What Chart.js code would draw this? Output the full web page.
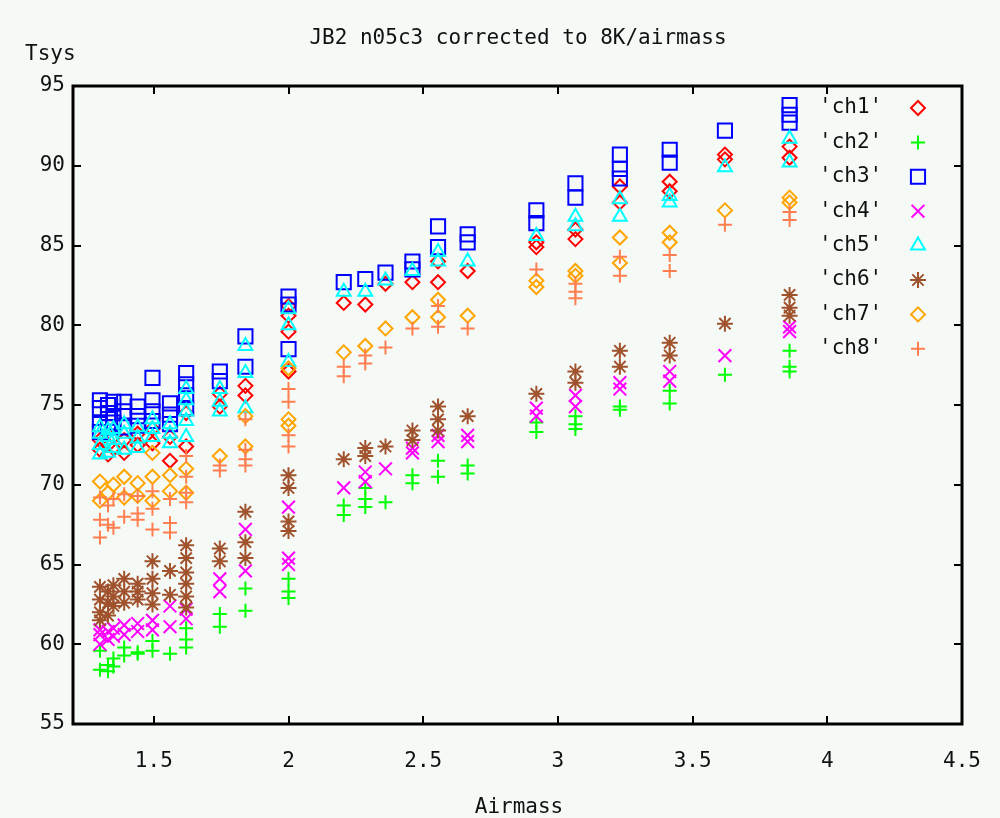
<!DOCTYPE html>
<html><head><meta charset="utf-8">
<script src="https://cdn.jsdelivr.net/npm/chart.js@4.4.0/dist/chart.umd.min.js"></script>
<style>html,body{margin:0;padding:0;background:#f6faf7;overflow:hidden}#wrap{width:1000px;height:818px}</style>
</head><body><div id="wrap"><canvas id="c" width="1000" height="818"></canvas></div>
<script>
// Airmass columns (x positions of the observation groups)
const airmass = [1.30, 1.33, 1.35, 1.39, 1.44, 1.495, 1.56, 1.62, 1.745, 1.84, 2.00, 2.205, 2.285, 2.36, 2.46, 2.555, 2.665, 2.92, 3.065, 3.23, 3.415, 3.62, 3.86];

// Tsys values per channel, grouped by airmass column
const ch1 = [[72.8,72.2],[72.5,71.9],[73.0,72.3],[72.8,72.0],[73.2,72.5],[73.5,72.6],[73.0,71.5],[74.5,72.4],[75.7,74.9],[76.2,75.6],[81.2,80.6,79.6,77.1],[81.4],[81.3],[82.6],[82.7],[84.0,82.7],[83.4],[85.2,84.9],[86.0,85.4],[88.7,87.7],[89.0,88.4],[90.7,90.4],[91.2,90.5]];
const ch2 = [[59.6,58.4],[58.3,58.7],[59.1,58.6],[59.8,59.3],[59.5,59.4],[60.2,59.6],[59.4],[61.0,60.3,59.8],[61.9,61.1],[63.5,62.1],[64.1,63.3,62.9],[68.7,68.1],[69.8,69.1,68.6],[68.9],[70.6,70.1],[71.5,70.5],[71.2,70.7],[73.9,73.3],[74.3,73.8,73.5],[74.9,74.7],[75.9,75.1],[76.9],[78.4,77.4,77.1]];
const ch3 = [[75.3,74.8,73.8,73.3],[75.0,74.5,73.6],[75.2,74.2,73.9],[75.2,74.6,73.6],[74.9,74.3,73.7],[76.7,75.3,74.6,74.0],[75.1,74.4,73.8],[77.0,76.3,75.6,74.8],[77.1,76.5],[79.3,77.4],[81.8,81.3,78.5],[82.7],[82.9],[83.3],[84.0,83.5],[86.2,84.9],[85.7,85.2],[87.2,86.4],[88.9,88.0],[90.7,89.8,89.2],[91.0,90.2],[92.2],[93.8,93.2,92.7]];
const ch4 = [[60.9,60.6,60.0],[60.3,60.8],[61.0,60.5],[61.2,60.6],[61.3,60.8],[61.5,60.9],[62.4,61.1],[62.2,61.6],[64.1,63.3],[67.2,64.6],[68.6,65.4,65.0],[69.8],[70.8,70.2],[71.0],[72.3,72.0],[73.1,72.7],[73.1,72.7],[74.8,74.3],[75.6,74.9],[76.4,76.0],[77.1,76.5],[78.1],[79.9,79.6]];
const ch5 = [[73.6,73.2,72.5,71.9],[73.4,73.0,72.0],[73.5,72.8,72.3],[73.8,73.2,72.2],[73.6,72.9,72.3],[74.1,73.5,73.0],[73.8,73.2,72.6],[76.0,75.3,74.6,74.0,73.0],[76.0,75.2,74.6],[78.7,77.0,74.8],[81.0,80.0,77.7],[82.1],[82.1],[82.8],[83.4],[84.6,84.0],[84.0],[85.6],[86.8,86.2],[87.9,86.8],[88.1,87.7],[89.9],[91.7,90.2]];
const ch6 = [[63.6,62.8,62.0,61.5],[63.3,62.6,61.8],[63.7,63.0,62.4],[64.1,63.3,62.6],[63.8,63.3,62.8],[65.2,64.1,63.2,62.5],[64.6,63.1],[66.2,65.4,64.5,63.8,63.0,62.3],[66.0,65.2],[68.3,66.4,65.4],[70.6,69.8,67.7,67.1],[71.6],[72.3,71.8],[72.4],[73.4,72.8],[74.9,74.1,73.4],[74.3],[75.7],[77.1,76.4],[78.4,77.4],[78.9,78.1],[80.1],[81.9,81.1,80.6]];
const ch7 = [[70.2,69.0],[69.5],[70.0],[70.5,69.2],[70.1,69.3],[72.0,70.5,69.0],[70.6,69.6],[71.0,69.5],[71.8],[74.3,72.4],[77.3,74.1,73.7],[78.3],[78.7],[79.8],[80.5],[81.6,80.5],[80.6],[82.8,82.4],[83.4,83.1],[85.5,83.9],[85.8,85.2],[87.2],[88.0,87.7]];
const ch8 = [[69.2,67.8,66.7],[68.7,67.5],[69.1,67.3],[69.4,68.0],[69.3,68.2,67.8],[69.6,68.5,67.2],[69.1,67.6,67.0],[71.8,70.5,69.5,68.9],[71.2,70.9],[74.1,72.2,71.6,71.2],[76.0,75.2,73.1,72.4],[77.4,76.8],[78.1,77.6],[78.6],[79.8],[81.2,79.9],[79.8],[83.5],[82.6,82.1,81.7],[84.3,83.1],[84.4,83.4],[86.3],[87.1,86.6]];

const channelNames = ["'ch1'", "'ch2'", "'ch3'", "'ch4'", "'ch5'", "'ch6'", "'ch7'", "'ch8'"];
const xTicks = [1.5, 2, 2.5, 3, 3.5, 4, 4.5];
const yTicks = [55, 60, 65, 70, 75, 80, 85, 90, 95];
const titleText = 'JB2 n05c3 corrected to 8K/airmass';
const yTitle = 'Tsys';
const xTitle = 'Airmass';

const channels = [ch1, ch2, ch3, ch4, ch5, ch6, ch7, ch8];
const styles = [
  {color:'#ff0000', shape:'rectRot', r:7},
  {color:'#00ff00', shape:'cross', r:7},
  {color:'#0000ff', shape:'rect', r:10},
  {color:'#ff00ff', shape:'crossRot', r:9},
  {color:'#00ffff', shape:'triangle', r:8},
  {color:'#a0522d', shape:'star', r:8},
  {color:'#ffa500', shape:'rectRot', r:7},
  {color:'#ff7f50', shape:'cross', r:7}
];
const FONT = "'DejaVu Sans Mono', 'Liberation Mono', monospace";

function toPoints(groups){
  const pts = [];
  groups.forEach((g, i) => g.forEach(v => pts.push({x: airmass[i], y: v})));
  return pts;
}

const datasets = channels.map((c, i) => ({
  label: channelNames[i],
  data: toPoints(c),
  showLine: false,
  pointStyle: styles[i].shape,
  pointRadius: styles[i].r,
  pointHoverRadius: styles[i].r,
  pointBorderWidth: 2,
  pointBorderColor: styles[i].color,
  pointBackgroundColor: 'rgba(0,0,0,0)',
  borderColor: styles[i].color,
  backgroundColor: 'rgba(0,0,0,0)',
  order: 8 - i
}));

const decor = {
  id: 'decor',
  beforeDraw(chart){
    const ctx = chart.ctx;
    ctx.save();
    ctx.fillStyle = '#f6faf7';
    ctx.fillRect(0, 0, chart.width, chart.height);
    ctx.restore();
  },
  afterDraw(chart){
    const ctx = chart.ctx, a = chart.chartArea;
    const xs = chart.scales.x, ys = chart.scales.y;
    ctx.save();
    ctx.strokeStyle = '#000';
    ctx.lineWidth = 3;
    ctx.strokeRect(a.left, a.top, a.right - a.left, a.bottom - a.top);
    ctx.lineWidth = 2;
    ctx.beginPath();
    xTicks.forEach(v => {
      const px = Math.round(xs.getPixelForValue(v));
      ctx.moveTo(px, a.bottom); ctx.lineTo(px, a.bottom - 8);
      ctx.moveTo(px, a.top); ctx.lineTo(px, a.top + 8);
    });
    yTicks.forEach(v => {
      const py = Math.round(ys.getPixelForValue(v));
      ctx.moveTo(a.left, py); ctx.lineTo(a.left + 8, py);
      ctx.moveTo(a.right, py); ctx.lineTo(a.right - 8, py);
    });
    ctx.stroke();
    ctx.fillStyle = '#111';
    ctx.font = '21px ' + FONT;
    ctx.textBaseline = 'middle';
    ctx.textAlign = 'center';
    ctx.fillText(titleText, 518, 39);
    ctx.fillText(xTitle, 519, 808);
    ctx.textAlign = 'left';
    ctx.fillText(yTitle, 25, 55);
    // key
    const dp = Chart.helpers && Chart.helpers.drawPoint;
    channelNames.forEach((n, i) => {
      const y = 108 + i * 34.4;
      ctx.fillStyle = '#111';
      ctx.textAlign = 'left';
      ctx.fillText(n, 819, y);
      const s = styles[i];
      ctx.strokeStyle = s.color;
      ctx.fillStyle = 'rgba(0,0,0,0)';
      ctx.lineWidth = 2;
      if (dp) dp(ctx, {pointStyle: s.shape, radius: s.r, rotation: 0, borderWidth: 2}, 918, y);
    });
    ctx.restore();
  }
};

new Chart(document.getElementById('c'), {
  type: 'scatter',
  data: { datasets },
  plugins: [decor],
  options: {
    responsive: false,
    animation: false,
    devicePixelRatio: 1,
    layout: { padding: { top: 86, right: 38, left: 0, bottom: 0 } },
    plugins: { legend: { display: false }, tooltip: { enabled: false }, title: { display: false } },
    scales: {
      x: {
        type: 'linear', min: 1.2, max: 4.5,
        afterBuildTicks: s => { s.ticks = xTicks.map(v => ({value: v})); },
        afterFit: s => { s.height = 94; s.paddingLeft = 0; s.paddingRight = 0; },
        grid: { display: false, drawTicks: false },
        border: { display: false },
        ticks: { color: '#111', font: { family: FONT, size: 21 }, padding: 25, maxRotation: 0, autoSkip: false,
                 callback: v => String(v) }
      },
      y: {
        type: 'linear', min: 55, max: 95,
        afterBuildTicks: s => { s.ticks = yTicks.map(v => ({value: v})); },
        afterFit: s => { s.width = 73; s.paddingTop = 0; s.paddingBottom = 0; },
        grid: { display: false, drawTicks: false },
        border: { display: false },
        ticks: { color: '#111', font: { family: FONT, size: 21 }, padding: 8, callback: v => String(v) }
      }
    }
  }
});
</script></body></html>
